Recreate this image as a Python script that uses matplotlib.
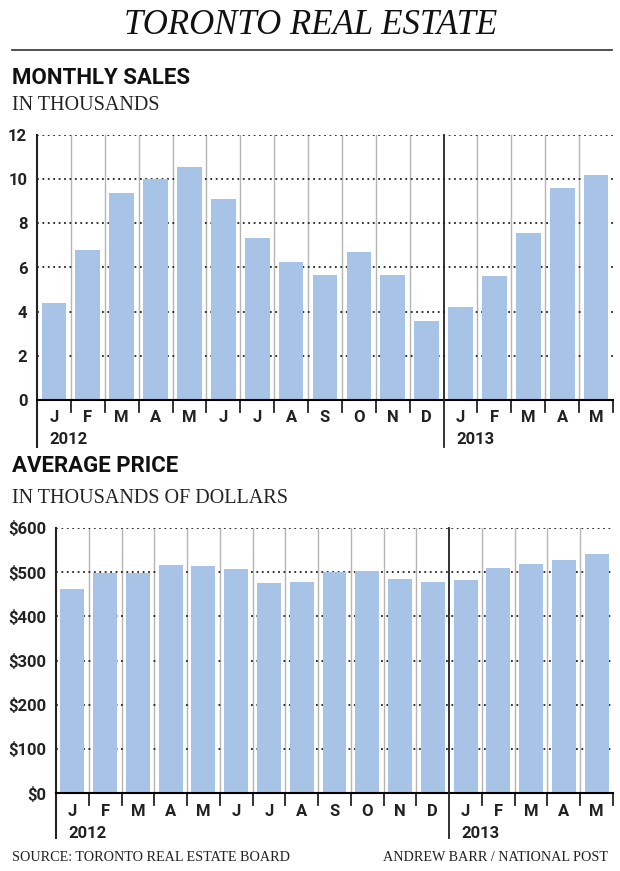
import matplotlib.pyplot as plt
import matplotlib.transforms as mtransforms

months = ["J", "F", "M", "A", "M", "J", "J", "A", "S", "O", "N", "D", "J", "F", "M", "A", "M"]
years = ["2012", "2013"]
sales = [4.41, 6.79, 9.39, 10.0, 10.55, 9.12, 7.34, 6.24, 5.66, 6.70, 5.65, 3.56,
         4.21, 5.60, 7.55, 9.62, 10.17]
prices = [463, 499, 499, 516, 514, 508, 475, 477, 501, 503, 484, 477,
          482, 510, 518, 527, 542]
sales_ticks = [0, 2, 4, 6, 8, 10, 12]
price_ticks = [0, 100, 200, 300, 400, 500, 600]

W, H = 620, 871
BAR = "#a7c3e6"
INK = "#222222"
SERIF = "Liberation Serif"
SANS = "Roboto"

fig = plt.figure(figsize=(W / 100, H / 100), dpi=100)


def px_axes(left, top, right, bottom):
    return fig.add_axes([left / W, 1 - bottom / H, (right - left) / W, (bottom - top) / H])


def draw_panel(ax, values, ticks, labels, drop_px, height_px):
    n = len(values)
    ax.bar(range(n), values, width=0.73, color=BAR, zorder=2)
    ax.set_xlim(-0.5, n - 0.5)
    ax.set_ylim(ticks[0], ticks[-1])
    for s in ["top", "right", "left"]:
        ax.spines[s].set_visible(False)
    ax.spines["bottom"].set_linewidth(1.5)
    ax.set_xticks([])
    ax.set_yticks(ticks)
    ax.set_yticklabels(labels, fontfamily=SANS, fontweight="bold", fontsize=12, color=INK)
    ax.tick_params(axis="y", length=0, pad=7)
    for t in ticks[1:]:
        ax.axhline(t, color=INK, lw=1.3, ls=(0, (1, 2)), zorder=1)
    trans = mtransforms.blended_transform_factory(ax.transData, ax.transAxes)
    drop = -drop_px / height_px
    tick = -12 / height_px
    for i in range(n - 1):
        b = i + 0.5
        if i == 11:
            ax.plot([b, b], [drop, 1], color=INK, lw=1.3, transform=trans, clip_on=False, zorder=3)
        else:
            ax.plot([b, b], [0, 1], color="#b5b5b5", lw=1, transform=trans, zorder=0)
            ax.plot([b, b], [tick, 0], color=INK, lw=1.3, transform=trans, clip_on=False)
    ax.plot([-0.5, -0.5], [drop, 1], color=INK, lw=1.5, transform=trans, clip_on=False)
    ax.plot([n - 0.5, n - 0.5], [tick, 0], color=INK, lw=1.3, transform=trans, clip_on=False)
    for i, m in enumerate(months):
        ax.text(i, -18 / height_px, m, transform=trans, ha="center", va="center",
                fontfamily=SANS, fontweight="bold", fontsize=12, color=INK)
    ax.text(-0.5 + 0.37, -40 / height_px, years[0], transform=trans, ha="left", va="center",
            fontfamily=SANS, fontweight="bold", fontsize=12, color=INK)
    ax.text(11.5 + 0.37, -40 / height_px, years[1], transform=trans, ha="left", va="center",
            fontfamily=SANS, fontweight="bold", fontsize=12, color=INK)


ax1 = px_axes(37, 135, 613, 400)
draw_panel(ax1, sales, sales_ticks, [str(t) for t in sales_ticks], 47, 265)

ax2 = px_axes(56, 528, 613, 793)
draw_panel(ax2, prices, price_ticks, ["$" + str(t) for t in price_ticks], 45, 265)

fig.text(311 / W, 1 - 26 / H, "TORONTO REAL ESTATE", ha="center", va="center",
         fontfamily=SERIF, fontstyle="italic", fontsize=25, color="#111111")
fig.add_artist(plt.Line2D([12 / W, 612 / W], [1 - 50 / H, 1 - 50 / H], color="#444444", lw=1.3))
fig.text(12 / W, 1 - 78 / H, "MONTHLY SALES", ha="left", va="center",
         fontfamily=SANS, fontweight="bold", fontsize=16, color="#111111")
fig.text(12 / W, 1 - 105 / H, "IN THOUSANDS", ha="left", va="center",
         fontfamily=SERIF, fontsize=14.5, color=INK)
fig.text(12 / W, 1 - 466 / H, "AVERAGE PRICE", ha="left", va="center",
         fontfamily=SANS, fontweight="bold", fontsize=16, color="#111111")
fig.text(12 / W, 1 - 498 / H, "IN THOUSANDS OF DOLLARS", ha="left", va="center",
         fontfamily=SERIF, fontsize=14.5, color=INK)
fig.text(12 / W, 1 - 857 / H, "SOURCE: TORONTO REAL ESTATE BOARD", ha="left", va="center",
         fontfamily=SERIF, fontsize=10.2, color=INK)
fig.text(608 / W, 1 - 857 / H, "ANDREW BARR / NATIONAL POST", ha="right", va="center",
         fontfamily=SERIF, fontsize=10.2, color=INK)

fig.savefig("out.png", dpi=100)
